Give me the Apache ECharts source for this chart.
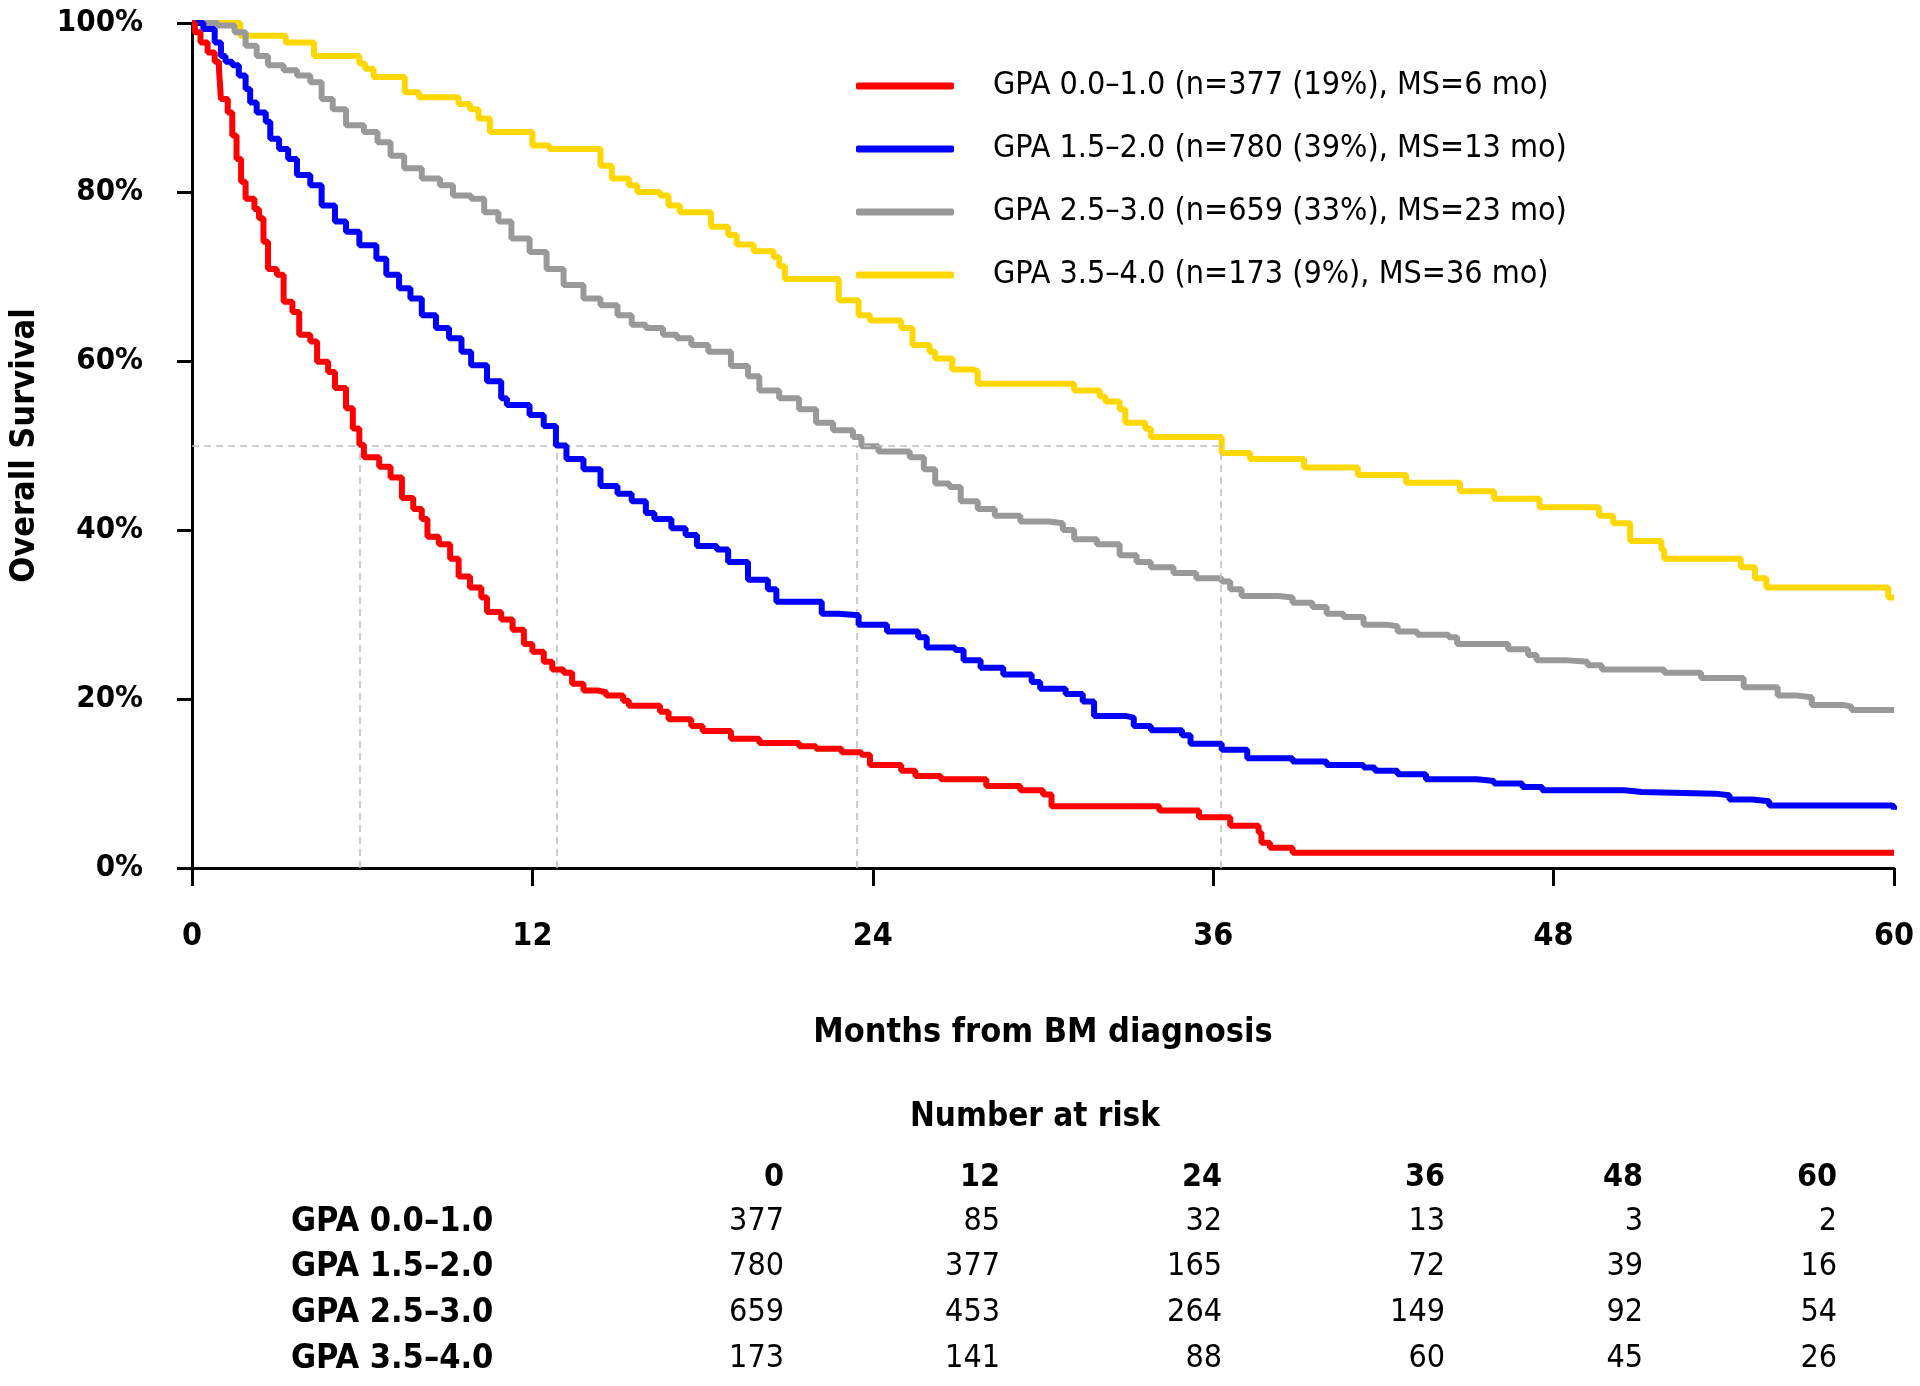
<!DOCTYPE html>
<html>
<head>
<meta charset="utf-8">
<script src="https://cdn.jsdelivr.net/npm/echarts@6/dist/echarts.min.js"></script>
<style>
  body { margin: 0; background: #fff; }
  #chart { width: 1920px; height: 1386px; }
</style>
</head>
<body>
<div id="chart"></div>
<script>
var FONT = "'DejaVu Sans Condensed', 'DejaVu Sans', sans-serif";

var groupNames = [
  'GPA 0.0\u20131.0 (n=377 (19%), MS=6 mo)',
  'GPA 1.5\u20132.0 (n=780 (39%), MS=13 mo)',
  'GPA 2.5\u20133.0 (n=659 (33%), MS=23 mo)',
  'GPA 3.5\u20134.0 (n=173 (9%), MS=36 mo)'
];
var groupColors = ['#ff0000', '#0000ff', '#999999', '#ffd700'];

// KM curves: [month, survival % after the step]
var gpa0 = [[0,100],[0.1,98.9],[0.3,97.7],[0.55,96.5],[0.8,95.4],[0.95,94.6],[1.02,91.0],[1.26,89.4],[1.42,86.7],[1.57,83.9],[1.73,81.2],[1.89,79.2],[2.2,78.0],[2.36,76.9],[2.52,74.1],[2.68,70.9],[2.99,70.2],[3.23,67],[3.54,65.8],[3.78,63.1],[4.17,62.3],[4.41,59.9],[4.8,58.7],[5.04,56.8],[5.43,54.4],[5.67,52.0],[5.9,50.1],[6.06,48.6],[6.6,47.5],[7.0,46.2],[7.4,43.8],[7.8,42.5],[8.1,41.3],[8.3,39.2],[8.7,38.3],[9.1,36.6],[9.4,34.5],[9.8,33.2],[10.2,32.0],[10.4,30.3],[10.9,29.4],[11.3,28.2],[11.7,26.5],[12.0,25.6],[12.4,24.4],[12.7,23.5],[13.1,23.1],[13.4,21.8],[13.8,21.0],[14.3,20.8],[14.6,20.4],[15.2,19.8],[15.4,19.2],[16.5,18.5],[16.8,17.6],[17.6,16.8],[18.0,16.2],[19.0,15.3],[20.0,14.8],[21.4,14.4],[22.0,14.1],[22.9,13.7],[23.6,13.4],[23.9,12.2],[25.0,11.5],[25.5,10.9],[26.4,10.5],[28.0,9.7],[29.2,9.2],[30.0,8.7],[30.3,7.3],[34.1,6.8],[35.5,6.0],[36.6,5.0],[37.6,4.2],[37.7,3.0],[38.0,2.4],[38.8,1.8],[60,1.8]];
var gpa15 = [[0,100],[0.4,99.3],[0.8,97.7],[1.02,96.1],[1.18,95.4],[1.42,95.0],[1.65,93.8],[1.89,92.2],[2.05,90.6],[2.28,89.4],[2.6,88.3],[2.76,86.3],[3.07,85.1],[3.39,83.9],[3.7,82],[4.17,80.8],[4.57,78.4],[5.04,76.5],[5.43,75.3],[5.9,73.7],[6.5,72.1],[6.85,70.2],[7.3,68.6],[7.7,67.4],[8.1,65.4],[8.6,63.9],[9.06,62.7],[9.5,61.1],[9.84,59.5],[10.4,57.6],[10.9,55.6],[11.1,54.8],[11.9,53.6],[12.4,52.3],[12.83,50],[13.2,48.4],[13.8,47.2],[14.4,45.2],[15.0,44.3],[15.5,43.4],[16.0,42.0],[16.3,41.3],[16.9,40.2],[17.4,39.4],[17.8,38.1],[18.5,37.7],[18.9,36.2],[19.6,34.1],[20.3,33.0],[20.6,31.5],[22.2,30.1],[22.8,29.9],[23.5,28.8],[24.5,28.0],[25.6,27.3],[25.9,26.1],[26.9,25.8],[27.2,24.6],[27.8,23.7],[28.6,22.9],[29.6,22.0],[29.9,21.2],[30.8,20.6],[31.4,19.7],[31.8,18.0],[32.9,17.8],[33.2,16.8],[33.8,16.3],[34.9,15.7],[35.2,14.7],[36.3,14.0],[37.2,13.0],[38.8,12.6],[40.0,12.2],[41.3,11.9],[41.7,11.5],[42.5,11.1],[43.5,10.5],[45.3,10.3],[45.9,10.0],[46.9,9.6],[47.6,9.2],[50.5,9.0],[51.1,8.8],[53.7,8.6],[54.2,8.1],[55.0,7.9],[55.6,7.4],[59.9,7.3],[60,6.9]];
var gpa25 = [[0,100],[0.9,99.7],[1.5,98.9],[1.89,97.3],[2.28,96.1],[2.68,95.0],[3.23,94.4],[3.7,93.8],[4.17,93.0],[4.57,91.0],[4.96,89.8],[5.43,87.9],[6.06,87.1],[6.54,85.9],[7.0,84.3],[7.48,82.8],[8.1,81.6],[8.74,80.8],[9.2,79.6],[9.84,79.2],[10.3,77.6],[10.8,76.5],[11.26,74.5],[11.9,72.9],[12.5,70.9],[13.1,69.0],[13.8,67.4],[14.4,66.6],[15.0,65.4],[15.5,64.3],[16.0,63.9],[16.6,63.1],[17.1,62.7],[17.6,61.9],[18.2,61.1],[19.0,59.4],[19.6,58.2],[20.0,56.5],[20.7,55.6],[21.4,54.3],[22.0,52.7],[22.6,51.8],[23.3,51.0],[23.6,49.9],[24.2,49.3],[25.3,48.6],[25.8,47.2],[26.2,45.5],[26.7,45.1],[27.1,43.4],[27.7,42.5],[28.3,41.7],[29.2,41.0],[30.2,40.8],[30.7,40.0],[31.1,38.9],[31.9,38.3],[32.7,37.0],[33.3,36.2],[33.8,35.6],[34.6,34.9],[35.4,34.3],[36.3,33.9],[36.6,33.0],[37.0,32.2],[38.3,32.0],[38.8,31.4],[39.5,30.9],[40.0,30.1],[40.6,29.7],[41.3,28.8],[42.1,28.6],[42.5,28.0],[43.2,27.6],[44.3,27.3],[44.6,26.5],[46.4,25.9],[47.1,25.2],[47.4,24.6],[48.4,24.4],[49.2,24.0],[49.7,23.5],[51.9,23.1],[53.2,22.5],[54.7,21.4],[55.9,20.4],[56.6,20.2],[57.1,19.3],[58.2,19.1],[58.5,18.7],[60,18.7]];
var gpa35 = [[0,100],[1.7,98.5],[3.3,97.7],[4.3,96.1],[5.9,95.2],[6.1,94.6],[6.4,93.6],[7.5,91.8],[8.0,91.2],[9.4,90.4],[9.8,89.8],[10.1,88.7],[10.5,87.1],[12.0,85.5],[12.6,85.1],[14.4,83.1],[14.8,81.6],[15.4,80.8],[15.7,80.0],[16.5,79.6],[16.8,78.4],[17.2,77.6],[18.3,75.9],[18.9,74.9],[19.2,73.8],[19.8,73.0],[20.5,72.3],[20.7,71.2],[20.9,69.7],[22.8,67.2],[23.5,65.4],[23.9,64.8],[25.0,63.9],[25.4,61.9],[26.0,61.1],[26.2,60.3],[26.8,59.0],[27.5,58.8],[27.7,57.3],[31.1,56.5],[32.0,55.8],[32.2,55.2],[32.7,54.3],[32.9,52.7],[33.6,52.0],[33.8,51.0],[36.3,49.1],[37.3,48.4],[39.2,47.4],[41.1,46.5],[42.8,45.6],[44.7,44.6],[45.9,43.7],[47.5,42.7],[49.6,41.7],[50.1,40.8],[50.7,38.7],[51.8,37.7],[51.9,36.6],[54.6,35.6],[55.1,34.3],[55.5,33.2],[59.8,32.0],[60,32.0]];
var curves = [gpa0, gpa15, gpa25, gpa35];

// median survival months (dashed guide lines)
var medianMonths = [5.9, 12.85, 23.45, 36.25];

// number at risk table
var riskTimes = [0, 12, 24, 36, 48, 60];
var riskLabels = ['GPA 0.0\u20131.0', 'GPA 1.5\u20132.0', 'GPA 2.5\u20133.0', 'GPA 3.5\u20134.0'];
var risk0 = [377, 85, 32, 13, 3, 2];
var risk15 = [780, 377, 165, 72, 39, 16];
var risk25 = [659, 453, 264, 149, 92, 54];
var risk35 = [173, 141, 88, 60, 45, 26];
var riskRows = [risk0, risk15, risk25, risk35];

var chart = echarts.init(document.getElementById('chart'));

var series = curves.map(function (d, i) {
  return {
    name: groupNames[i],
    type: 'line',
    step: 'end',
    data: d,
    symbol: 'none',
    showSymbol: false,
    color: groupColors[i],
    lineStyle: { width: 6, color: groupColors[i] },
    z: 3 + (3 - i)
  };
});

var guideLines = [[{ coord: [0, 50] }, { coord: [medianMonths[3], 50] }]];
medianMonths.forEach(function (m) {
  guideLines.push([{ coord: [m, 0] }, { coord: [m, 50] }]);
});
series.push({
  name: 'median',
  type: 'line',
  data: [],
  z: 1,
  markLine: {
    silent: true,
    symbol: ['none', 'none'],
    label: { show: false },
    lineStyle: { type: [7, 5], color: '#bdbdbd', width: 1.5 },
    data: guideLines,
    animation: false
  }
});

// table as graphic texts
var colRight = [784, 1000, 1222, 1445, 1643, 1837];
var rowY = [1222, 1267, 1313, 1359];
var graphics = [{
  type: 'text', x: 1035, y: 1117,
  style: { text: 'Number at risk', font: 'bold 33px ' + FONT, fill: '#000', align: 'center', verticalAlign: 'middle' }
}];
riskTimes.forEach(function (t, j) {
  graphics.push({
    type: 'text', x: colRight[j], y: 1178,
    style: { text: String(t), font: 'bold 32px ' + FONT, fill: '#000', align: 'right', verticalAlign: 'middle' }
  });
});
riskRows.forEach(function (row, i) {
  graphics.push({
    type: 'text', x: 291, y: rowY[i],
    style: { text: riskLabels[i], font: 'bold 34px ' + FONT, fill: '#000', align: 'left', verticalAlign: 'middle' }
  });
  row.forEach(function (v, j) {
    graphics.push({
      type: 'text', x: colRight[j], y: rowY[i],
      style: { text: String(v), font: '32px ' + FONT, fill: '#000', align: 'right', verticalAlign: 'middle' }
    });
  });
});

var option = {
  animation: false,
  textStyle: { fontFamily: FONT },
  grid: { left: 190, right: 26, top: 23, bottom: 518 },
  legend: {
    orient: 'vertical',
    left: 851,
    top: 65,
    icon: 'roundRect',
    itemWidth: 98,
    itemHeight: 7,
    itemGap: 31,
    selectedMode: false,
    data: groupNames,
    textStyle: { fontFamily: FONT, fontSize: 32, color: '#000', padding: [0, 0, 0, 34] }
  },
  xAxis: {
    type: 'value',
    min: 0, max: 60, interval: 12,
    name: 'Months from BM diagnosis',
    nameLocation: 'middle',
    nameGap: 148,
    nameTextStyle: { fontFamily: FONT, fontSize: 34, fontWeight: 'bold', color: '#000' },
    axisLine: { show: true, lineStyle: { color: '#000', width: 3 } },
    axisTick: { show: true, length: 18, lineStyle: { color: '#000', width: 3 } },
    axisLabel: { margin: 53, fontFamily: FONT, fontSize: 32, fontWeight: 'bold', color: '#000' },
    splitLine: { show: false }
  },
  yAxis: {
    type: 'value',
    min: 0, max: 100, interval: 20,
    name: 'Overall Survival',
    nameLocation: 'middle',
    nameGap: 150,
    nameTextStyle: { fontFamily: FONT, fontSize: 34, fontWeight: 'bold', color: '#000' },
    axisLine: { show: true, lineStyle: { color: '#000', width: 3 } },
    axisTick: { show: true, length: 15, lineStyle: { color: '#000', width: 3 } },
    axisLabel: { margin: 49, fontFamily: FONT, fontSize: 31, fontWeight: 'bold', color: '#000', formatter: '{value}%' },
    splitLine: { show: false }
  },
  series: series,
  graphic: graphics
};
chart.setOption(option);
</script>
</body>
</html>
